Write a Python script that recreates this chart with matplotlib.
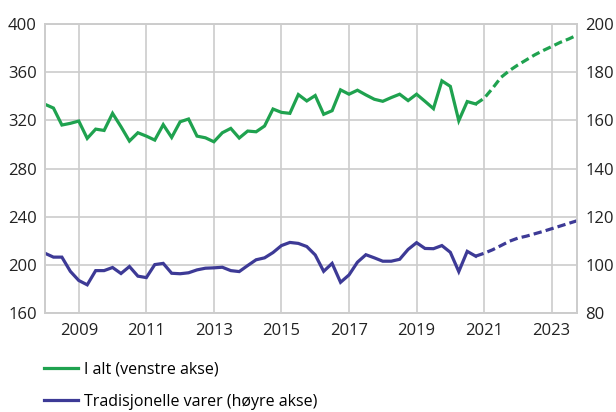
import matplotlib
matplotlib.use('Agg')
import matplotlib.pyplot as plt
import numpy as np

plt.rcParams['font.family'] = ['Open Sans', 'DejaVu Sans']

# kvartalsvise verdier, 2008K1 - 2020K4 (faktisk) og 2020K4 - 2023K4 (framskriving)
start_year = 2008
i_alt = [333.3, 330.2, 316.1, 317.5, 319.4, 305.0, 312.7, 311.6,
         325.8, 314.7, 302.8, 309.7, 306.9, 303.6, 316.4, 305.8,
         318.8, 321.1, 306.9, 305.5, 302.2, 309.7, 313.3, 305.3,
         311.1, 310.5, 315.3, 329.4, 326.6, 325.8, 341.4, 336.1,
         340.6, 325.0, 328.0, 345.3, 341.7, 345.0, 341.1, 337.5,
         335.8, 338.9, 341.7, 336.4, 341.7, 335.8, 329.7, 352.8,
         348.2, 319.7, 335.6, 333.6]
i_alt_proj = [333.6, 338.3, 346.6, 355.7, 361.3, 366.0, 370.2, 374.4,
              378.0, 381.3, 384.7, 387.5, 390.8]

trad = [104.8, 103.2, 103.2, 97.3, 93.5, 91.7, 97.6, 97.6,
        98.9, 96.4, 99.3, 95.3, 94.7, 100.1, 100.6, 96.5,
        96.3, 96.7, 97.9, 98.6, 98.75, 99.0, 97.6, 97.2,
        99.7, 102.1, 102.9, 105.1, 108.0, 109.3, 108.9, 107.6,
        104.1, 97.3, 100.6, 92.75, 95.8, 101.1, 104.2, 102.9,
        101.5, 101.5, 102.3, 106.4, 109.2, 106.8, 106.7, 108.0,
        105.2, 97.2, 105.6, 103.6]
trad_proj = [103.6, 104.8, 106.25, 108.0, 109.8, 111.1, 111.9, 112.9,
             113.9, 115.0, 116.1, 117.2, 118.3]

x_hist = start_year + np.arange(len(i_alt)) / 4
x_proj = x_hist[-1] + np.arange(len(i_alt_proj)) / 4

green = '#1fa24f'
blue = '#3d3a96'
gridc = '#cccccc'

fig = plt.figure(figsize=(6.16, 4.12), dpi=100)
ax = fig.add_axes([45/616, 1-313/412, (577-45)/616, (313-24)/412])
ax2 = ax.twinx()

l1, = ax.plot(x_hist, i_alt, color=green, lw=2.3, solid_joinstyle='miter')
ax.plot(x_proj, i_alt_proj, color=green, lw=2.3, linestyle=(0, (2.6, 1.3)))
l2, = ax2.plot(x_hist, trad, color=blue, lw=2.3, solid_joinstyle='miter')
ax2.plot(x_proj, trad_proj, color=blue, lw=2.3, linestyle=(0, (2.6, 1.3)))

ax.set_xlim(2008, 2023.75)
ax.set_ylim(160, 400)
ax.set_yticks(np.arange(160, 401, 40))
ax2.set_ylim(80, 200)
ax2.set_yticks(np.arange(80, 201, 20))
ax.set_xticks(np.arange(2009, 2024, 2))

ax.grid(True, color=gridc, lw=1.2)
ax.set_axisbelow(True)
for a in (ax, ax2):
    for s in a.spines.values():
        s.set_color(gridc)
        s.set_linewidth(1.2)
    a.tick_params(length=0, labelsize=12, colors='#222222')
ax.tick_params(axis='y', pad=6)
ax.tick_params(axis='x', pad=7)
ax2.tick_params(axis='y', pad=6)

fig.legend([l1, l2], ['I alt (venstre akse)', 'Tradisjonelle varer (høyre akse)'],
           loc='upper left', bbox_to_anchor=(44/616, 1-362/412), frameon=False,
           fontsize=11.5, handlelength=2.13, handletextpad=0.4, labelspacing=1.0,
           borderpad=0, borderaxespad=0)

fig.savefig('out.png', dpi=100)
